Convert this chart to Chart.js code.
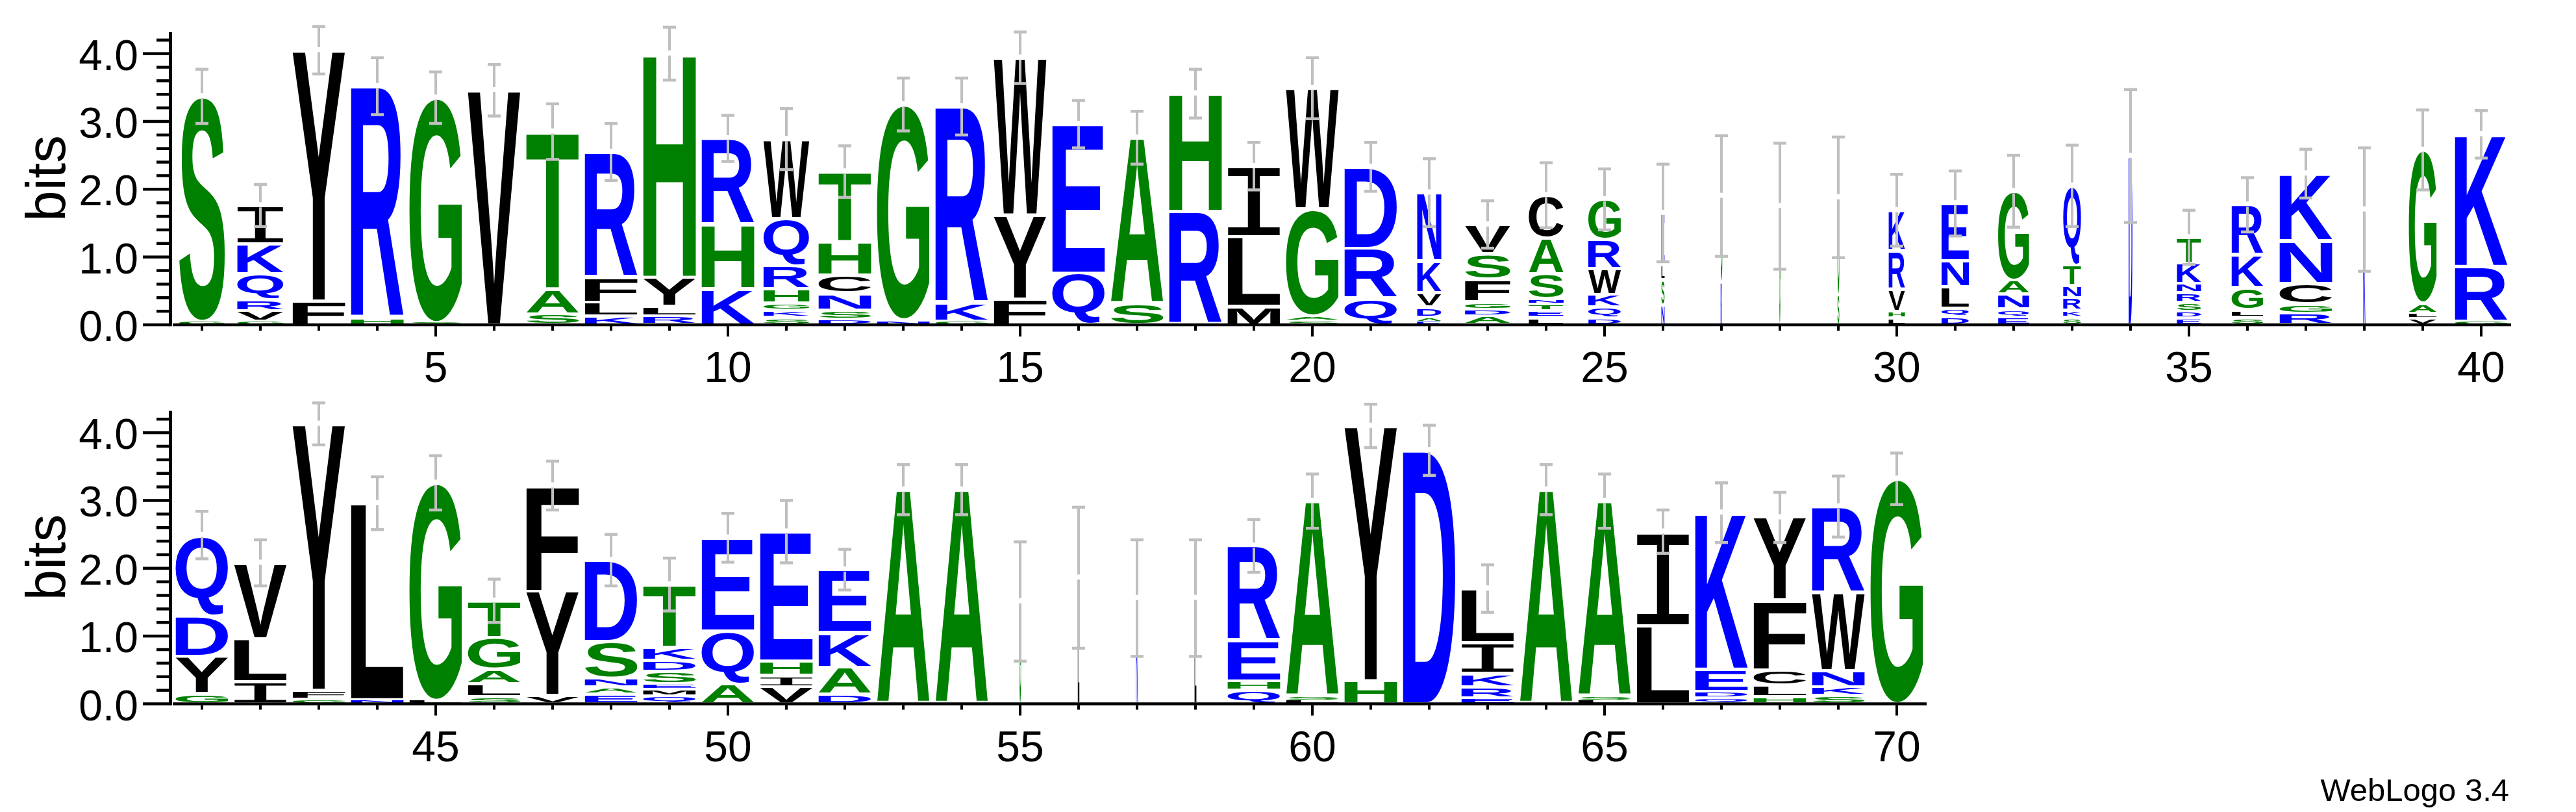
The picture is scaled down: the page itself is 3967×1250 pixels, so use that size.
<!DOCTYPE html>
<html>
<head>
<meta charset="utf-8">
<script src="https://cdn.jsdelivr.net/npm/chart.js@4.4.0/dist/chart.umd.min.js"></script>
<style>
html, body { margin: 0; padding: 0; background: #ffffff; }
#wrap { position: relative; width: 3967px; height: 1250px; }
canvas { position: absolute; left: 0; }
</style>
</head>
<body>
<div id="wrap">
  <canvas id="logoTop" width="3967" height="600" style="top:0"></canvas>
  <canvas id="logoBottom" width="3967" height="650" style="top:600px"></canvas>
</div>
<script>
// ---- row 1 : positions 1-40 (letters listed bottom -> top) ----
const positionsTop = [1,2,3,4,5,6,7,8,9,10,11,12,13,14,15,16,17,18,19,20,
                      21,22,23,24,25,26,27,28,29,30,31,32,33,34,35,36,37,38,39,40];
const lettersTop = ['GS','GVRQKI','FY','HR','SG','V','SAT','KLFR','RLYH','KHR',
                    'SKGHRQW','DSNCHT','NG','GKR','FYW','QE','SA','RH','MLI','SAGW',
                    'QRD','EADVKN','ADGFSV','LETNSAC','DQKWRG','NSLE','KG','G','SG','LHVRK',
                    'DQLNE','EQNAG','SKRNTQ','D','EDSRNKT','SLGKR','RGCNK','K','VLAG','GRK'];
const bitsTop = [
  [0.05, 3.32], [0.05, 0.16, 0.16, 0.38, 0.44, 0.57], [0.35, 3.70], [0.10, 3.42], [0.03, 3.32],
  [3.46], [0.16, 0.37, 2.32], [0.13, 0.20, 0.37, 1.85], [0.13, 0.14, 0.43, 3.30], [0.53, 0.95, 1.27],
  [0.11, 0.11, 0.10, 0.21, 0.34, 0.70, 1.17], [0.08, 0.14, 0.25, 0.26, 0.49, 1.04], [0.07, 3.18],
  [0.05, 0.27, 2.90], [0.38, 1.24, 2.32], [0.76, 2.20], [0.31, 2.45], [1.67, 1.74], [0.27, 1.03, 1.04],
  [0.06, 0.07, 1.58, 1.78], [0.39, 0.74, 1.20], [0.05, 0.06, 0.15, 0.21, 0.47, 1.01],
  [0.13, 0.10, 0.11, 0.33, 0.38, 0.43], [0.11, 0.10, 0.10, 0.07, 0.37, 0.53, 0.63],
  [0.11, 0.15, 0.19, 0.38, 0.43, 0.59], [0.29, 0.38, 0.22, 0.76], [0.64, 1.26], [1.75], [0.45, 1.43],
  [0.11, 0.09, 0.33, 0.57, 0.59], [0.12, 0.12, 0.32, 0.38, 0.85], [0.12, 0.11, 0.22, 0.21, 1.31],
  [0.11, 0.10, 0.19, 0.18, 0.30, 1.17], [2.49], [0.10, 0.10, 0.13, 0.14, 0.14, 0.30, 0.38],
  [0.11, 0.11, 0.33, 0.48, 0.74], [0.17, 0.14, 0.30, 0.63, 0.99], [1.70], [0.10, 0.07, 0.15, 2.26],
  [0.05, 0.81, 1.95]
];
// fraction of non-gap sequences (stack width)
const occupancyTop = [0.87,0.88,1,1,1,1,1,1,1,1,0.87,1,1,1,1,1,1,1,1,1,
                      1,0.46,0.86,0.66,0.62,0.06,0.03,0.02,0.035,0.31,0.52,0.59,0.34,0.07,0.46,0.6,1,0.04,0.53,1];
const errorTop = [0.40,0.31,0.35,0.42,0.38,0.38,0.41,0.42,0.39,0.34,0.45,0.38,0.39,0.42,0.38,0.35,0.39,0.36,0.35,0.45,
                  0.36,0.50,0.35,0.48,0.45,0.72,0.89,0.93,0.89,0.53,0.48,0.53,0.60,0.98,0.40,0.40,0.36,0.91,0.59,0.35];

// ---- row 2 : positions 41-70 ----
const positionsBottom = [41,42,43,44,45,46,47,48,49,50,51,52,53,54,55,56,57,58,59,60,
                         61,62,63,64,65,66,67,68,69,70];
const lettersBottom = ['GYDQ','ILV','GFY','NL','LG','SLAGT','VYF','EANSD','QMESDKT','AQE',
                       'VIHE','DAKE','A','A','G','L','K','L','QHER','LSA',
                       'HY','D','ERKIL','A','LSA','LI','QDEK','HLCFY','SKNWR','G'];
const bitsBottom = [
  [0.15, 0.55, 0.60, 1.19], [0.33, 0.63, 1.12], [0.07, 0.13, 3.93], [0.06, 2.90], [0.05, 3.21],
  [0.11, 0.19, 0.21, 0.47, 0.54], [0.12, 1.54, 1.56], [0.15, 0.10, 0.13, 0.54, 1.20],
  [0.12, 0.10, 0.08, 0.18, 0.16, 0.19, 0.93], [0.29, 0.78, 1.38], [0.25, 0.17, 0.21, 1.91],
  [0.14, 0.40, 0.51, 0.93], [3.16], [3.16], [1.51], [1.86], [1.56], [1.56], [0.20, 0.14, 0.60, 1.39],
  [0.05, 0.06, 2.88], [0.34, 3.76], [3.74], [0.09, 0.16, 0.20, 0.45, 0.80], [3.16], [0.05, 0.06, 2.88],
  [1.15, 1.39], [0.09, 0.09, 0.33, 2.31], [0.11, 0.17, 0.22, 1.03, 1.22], [0.12, 0.13, 0.24, 1.15, 1.27],
  [3.32]
];
const occupancyBottom = [1,1,1,1,1,1,1,1,1,1,1,1,1,1,0.03,0.03,0.035,0.035,1,1,
                         1,1,1,1,1,1,1,1,1,1];
const errorBottom = [0.35,0.34,0.31,0.39,0.40,0.32,0.36,0.38,0.39,0.36,0.46,0.30,0.37,0.37,0.88,1.04,0.86,0.86,0.39,0.40,
                     0.32,0.37,0.35,0.37,0.40,0.32,0.44,0.37,0.45,0.38];

const yTickLabels = ['0.0', '1.0', '2.0', '3.0', '4.0'];
const maxBits = Math.log2(20);

// hydrophobicity colour scheme
function letterColor(ch) {
  if ('RKDENQ'.includes(ch)) return '#0000ff';
  if ('SGHTAP'.includes(ch)) return '#008000';
  return '#000000';
}
// the serif I keeps its bars like the WebLogo glyph
function glyphFont(ch) {
  return ch === 'I' ? '200px "Liberation Mono"' : 'bold 200px "Liberation Sans", Arial, sans-serif';
}

const glyphCache = {};
function glyphBox(ctx, ch) {
  if (glyphCache[ch]) return glyphCache[ch];
  ctx.save();
  ctx.font = glyphFont(ch);
  ctx.textAlign = 'left';
  ctx.textBaseline = 'alphabetic';
  const m = ctx.measureText(ch);
  ctx.restore();
  const b = { left: -m.actualBoundingBoxLeft, right: m.actualBoundingBoxRight,
              top: -m.actualBoundingBoxAscent, bottom: m.actualBoundingBoxDescent };
  glyphCache[ch] = b;
  return b;
}

// stretch a letter so it fills the box exactly
function drawGlyph(ctx, ch, x0, y0, w, h) {
  if (w <= 0 || h <= 0) return;
  const b = glyphBox(ctx, ch);
  ctx.save();
  ctx.translate(x0, y0);
  ctx.scale(w / (b.right - b.left), h / (b.bottom - b.top));
  ctx.translate(-b.left, -b.top);
  ctx.font = glyphFont(ch);
  ctx.textAlign = 'left';
  ctx.textBaseline = 'alphabetic';
  ctx.fillStyle = letterColor(ch);
  ctx.fillText(ch, 0, 0);
  ctx.restore();
}

function makeLogoPlugin(row) {
  return {
    id: 'logo',
    afterDatasetsDraw(chart) {
      const ctx = chart.ctx;
      const xs = chart.scales.x, ys = chart.scales.y;
      const unit = xs.getPixelForValue(1) - xs.getPixelForValue(0);
      ctx.save();
      // letter stacks
      row.positions.forEach((pos, i) => {
        const cx = xs.getPixelForValue(pos);
        const w = unit * 0.9 * row.occupancy[i];
        let cum = 0;
        row.bits[i].forEach((h, j) => {
          const yTop = ys.getPixelForValue(cum + h);
          const yBot = ys.getPixelForValue(cum);
          const boxH = yBot - yTop;
          const inset = Math.min(2.5, boxH * 0.2);
          drawGlyph(ctx, row.letters[i][j], cx - w / 2, yTop + inset, w, boxH - 2 * inset);
          cum += h;
        });
      });
      // error bars
      ctx.fillStyle = '#bfbfbf';
      row.positions.forEach((pos, i) => {
        const cx = xs.getPixelForValue(pos);
        const total = row.bits[i].reduce((a, b) => a + b, 0);
        const yc = ys.getPixelForValue(total);
        const yt = ys.getPixelForValue(total + row.errors[i]);
        const yb = ys.getPixelForValue(total - row.errors[i]);
        ctx.fillRect(cx - 2, yt, 4, (yc - 5) - yt);
        ctx.fillRect(cx - 2, yc + 3, 4, yb - (yc + 3));
        ctx.fillRect(cx - 10, yt - 2.25, 20, 4.5);
        ctx.fillRect(cx - 10, yb - 2.25, 20, 4.5);
      });
      ctx.restore();
    },
    afterDraw(chart) {
      const ctx = chart.ctx;
      const xs = chart.scales.x, ys = chart.scales.y;
      const area = chart.chartArea;
      const y0 = ys.getPixelForValue(0);
      ctx.save();
      ctx.fillStyle = '#000000';
      // axis lines
      ctx.fillRect(area.left, y0 - 2.25, area.right - area.left + 1, 4.5);
      ctx.fillRect(area.left - 6, ys.getPixelForValue(maxBits), 5, y0 + 2.25 - ys.getPixelForValue(maxBits));
      // y ticks (every 0.2 bits, labelled every 1)
      ctx.font = '66px "Liberation Sans", Arial, sans-serif';
      ctx.textAlign = 'right';
      ctx.textBaseline = 'alphabetic';
      for (let k = 0; k <= 21; k++) {
        const py = ys.getPixelForValue(k / 5);
        if (k % 5 === 0) {
          ctx.fillRect(area.left - 46, py - 2.25, 42, 4.5);
          ctx.fillText(yTickLabels[k / 5], area.left - 53, py + 25);
        } else {
          ctx.fillRect(area.left - 25, py - 2.25, 21, 4.5);
        }
      }
      // x ticks
      ctx.textAlign = 'center';
      row.positions.forEach(pos => {
        const px = xs.getPixelForValue(pos);
        const major = pos % 5 === 0;
        ctx.fillRect(px - 2, y0 + 2, 4, major ? 16 : 7);
        if (major) ctx.fillText(String(pos), px, y0 + 88);
      });
      // y title
      ctx.save();
      ctx.translate(100, (area.top + area.bottom) / 2);
      ctx.rotate(-Math.PI / 2);
      ctx.font = '85px "Liberation Sans", Arial, sans-serif';
      ctx.textAlign = 'center';
      ctx.fillText('bits', 0, 0);
      ctx.restore();
      if (row.credit) {
        ctx.font = '49px "Liberation Sans", Arial, sans-serif';
        ctx.textAlign = 'right';
        ctx.fillText('WebLogo 3.4', 3864, 633);
      }
      ctx.restore();
    }
  };
}

function makeChart(id, row, layout) {
  const points = row.positions.map((p, i) => ({ x: p, y: row.bits[i].reduce((a, b) => a + b, 0) }));
  return new Chart(document.getElementById(id), {
    type: 'scatter',
    data: { datasets: [{ data: points, pointRadius: 0, showLine: false }] },
    options: {
      responsive: false,
      animation: false,
      devicePixelRatio: 1,
      layout: { padding: { left: 0, top: layout.top, right: layout.right, bottom: 0 } },
      plugins: { legend: { display: false }, tooltip: { enabled: false } },
      scales: {
        x: {
          type: 'linear',
          min: row.positions[0] - 0.5,
          max: row.positions[row.positions.length - 1] + 0.5,
          ticks: { display: false }, grid: { display: false }, border: { display: false },
          afterFit: s => { s.height = layout.xHeight; }
        },
        y: {
          type: 'linear', min: 0, max: maxBits,
          ticks: { display: false }, grid: { display: false }, border: { display: false },
          afterFit: s => { s.width = 266; }
        }
      }
    },
    plugins: [makeLogoPlugin(row)]
  });
}

makeChart('logoTop', {
  positions: positionsTop, letters: lettersTop, bits: bitsTop,
  occupancy: occupancyTop, errors: errorTop, credit: false
}, { top: 49, right: 101, xHeight: 100 });

makeChart('logoBottom', {
  positions: positionsBottom, letters: lettersBottom, bits: bitsBottom,
  occupancy: occupancyBottom, errors: errorBottom, credit: true
}, { top: 32.5, right: 1001, xHeight: 166.5 });
</script>
</body>
</html>
